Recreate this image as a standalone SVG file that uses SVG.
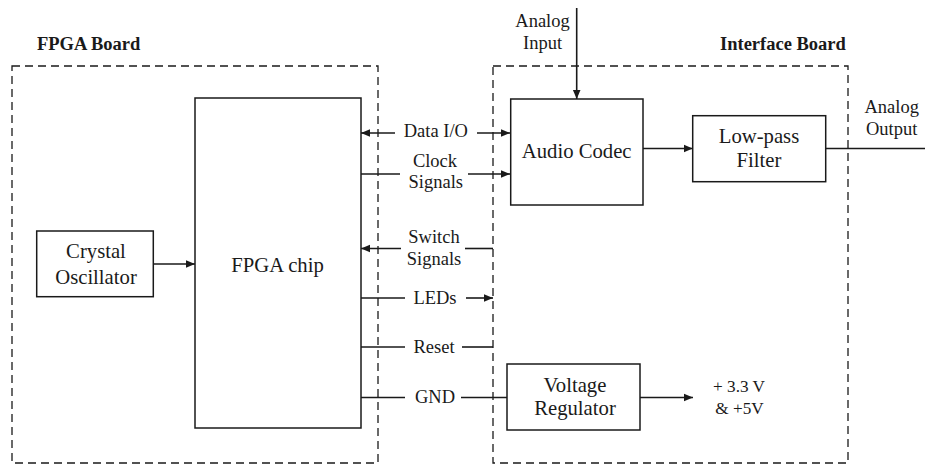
<svg xmlns="http://www.w3.org/2000/svg" width="925" height="465" viewBox="0 0 925 465" font-family="'Liberation Serif', 'Times New Roman', Times, serif">
<style>
text{font-family:'Liberation Serif','Times New Roman',Times,serif;font-size:18.5px;fill:#1a1a1a;text-anchor:middle}
.t{font-weight:bold;font-size:18.5px;text-anchor:start}
.n{font-size:20.7px}
.v{font-size:17.2px}
.box{fill:#fff;stroke:#1a1a1a;stroke-width:1.5}
.board{fill:none;stroke:#1a1a1a;stroke-width:1.3;stroke-dasharray:8 5}
.c{fill:none;stroke:#1a1a1a;stroke-width:1.6}
</style>
<defs>
<marker id="ah" viewBox="0 0 10 10" refX="10" refY="5" markerWidth="9" markerHeight="9" markerUnits="userSpaceOnUse" orient="auto-start-reverse">
<path d="M0,0.8 L10,5 L0,9.2 Z" fill="#1a1a1a"/>
</marker>
</defs>
<rect width="925" height="465" fill="#fff"/>
<g id="fpga-board">
<rect class="board" x="12" y="66" width="366" height="397"/>
<text class="t" x="37" y="50">FPGA Board</text>
</g>
<g id="interface-board">
<rect class="board" x="493" y="66" width="355" height="397"/>
<text class="t" x="720" y="50">Interface Board</text>
</g>
<g id="connectors">
<path class="c" d="M153.3,264 H195" marker-end="url(#ah)"/>
<path class="c" d="M361,133 H395" marker-start="url(#ah)"/>
<path class="c" d="M477,133 H510" marker-end="url(#ah)"/>
<path class="c" d="M361,174 H400"/>
<path class="c" d="M468,174 H510" marker-end="url(#ah)"/>
<path class="c" d="M361,248.5 H401" marker-start="url(#ah)"/>
<path class="c" d="M465,248.5 H493"/>
<path class="c" d="M361,298 H405"/>
<path class="c" d="M466,298 H493" marker-end="url(#ah)"/>
<path class="c" d="M361,347 H405"/>
<path class="c" d="M462,347 H493"/>
<path class="c" d="M361,397.5 H405"/>
<path class="c" d="M461,397.5 H507"/>
<path class="c" d="M576.7,8 V99" marker-end="url(#ah)"/>
<path class="c" d="M643,148.5 H692.7" marker-end="url(#ah)"/>
<path class="c" d="M825.7,148.5 H925"/>
<path class="c" d="M640,397.5 H693" marker-end="url(#ah)"/>
<text x="435.8" y="137.3">Data I/O</text>
<text x="435" y="166.7">Clock</text>
<text x="435.8" y="188">Signals</text>
<text x="434" y="243.3">Switch</text>
<text x="434" y="265">Signals</text>
<text x="435" y="304">LEDs</text>
<text x="434" y="352.7">Reset</text>
<text x="435" y="402.7">GND</text>
<text x="542.5" y="26.7">Analog</text>
<text x="542.5" y="48.5">Input</text>
<text x="891.7" y="113">Analog</text>
<text x="891.7" y="135">Output</text>
<text class="v" x="739" y="391.7">+ 3.3 V</text>
<text class="v" x="739.5" y="414">&amp; +5V</text>
</g>
<g id="crystal-oscillator">
<rect class="box" x="36.7" y="231" width="116.6" height="65.7"/>
<text class="n" x="96" y="258.3">Crystal</text>
<text class="n" x="96" y="284.3">Oscillator</text>
</g>
<g id="fpga-chip">
<rect class="box" x="195" y="98" width="166" height="330"/>
<text class="n" x="277.5" y="271.7">FPGA chip</text>
</g>
<g id="audio-codec">
<rect class="box" x="510.7" y="99" width="132.3" height="106"/>
<text class="n" x="576.7" y="158.3">Audio Codec</text>
</g>
<g id="low-pass-filter">
<rect class="box" x="692.7" y="115.7" width="133" height="66"/>
<text class="n" x="759" y="142.5">Low-pass</text>
<text class="n" x="759" y="166.7">Filter</text>
</g>
<g id="voltage-regulator">
<rect class="box" x="507" y="364" width="133" height="66"/>
<text class="n" x="575" y="391.7">Voltage</text>
<text class="n" x="575" y="415">Regulator</text>
</g>
</svg>
